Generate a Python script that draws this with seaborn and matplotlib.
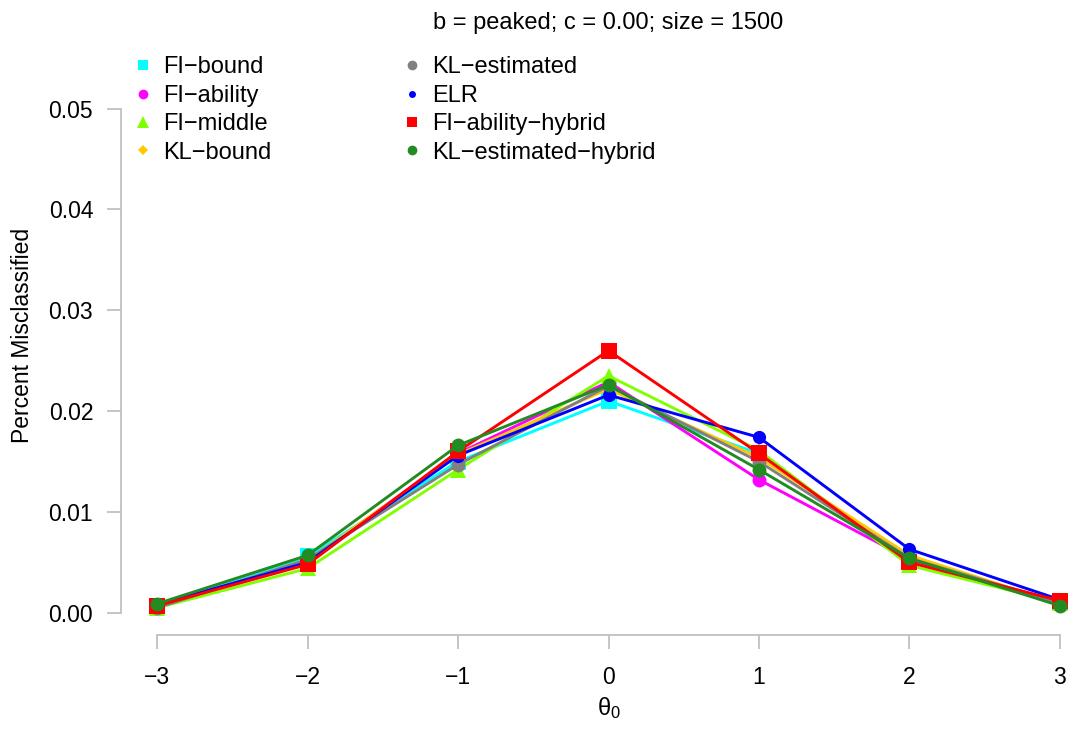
import matplotlib
matplotlib.use("Agg")
import matplotlib.pyplot as plt
import numpy as np
import pandas as pd
import seaborn as sns
from matplotlib.lines import Line2D

# values
theta = [-3, -2, -1, 0, 1, 2, 3]
fi_bound = [0.0007, 0.0056, 0.0150, 0.0210, 0.0158, 0.0052, 0.0011]
fi_ability = [0.0007, 0.0051, 0.0158, 0.0229, 0.0132, 0.0053, 0.0010]
fi_middle = [0.0005, 0.0044, 0.0142, 0.0235, 0.0161, 0.0047, 0.0010]
kl_bound = [0.0006, 0.0052, 0.0157, 0.0222, 0.0154, 0.0057, 0.0009]
kl_estimated = [0.0005, 0.0053, 0.0147, 0.0225, 0.0150, 0.0054, 0.0010]
elr = [0.0008, 0.0050, 0.0156, 0.0216, 0.0174, 0.0063, 0.0013]
fi_ability_hybrid = [0.0007, 0.0048, 0.0160, 0.0260, 0.0158, 0.0050, 0.0012]
kl_estimated_hybrid = [0.0009, 0.0057, 0.0166, 0.0226, 0.0142, 0.0054, 0.0007]

labels = ["FI\u2212bound", "FI\u2212ability", "FI\u2212middle", "KL\u2212bound",
          "KL\u2212estimated", "ELR", "FI\u2212ability\u2212hybrid", "KL\u2212estimated\u2212hybrid"]
series = [fi_bound, fi_ability, fi_middle, kl_bound,
          kl_estimated, elr, fi_ability_hybrid, kl_estimated_hybrid]
colors = ["#00FFFF", "#FF00FF", "#7FFF00", "#FFC800",
          "#808080", "#0000FF", "#FF0000", "#228B22"]
markers = ["s", "o", "^", "D", "o", "o", "s", "o"]
msizes = [11.5, 10, 11, 6, 10, 9.5, 11.5, 10]
leg_sizes = [7.5, 7, 8.5, 5, 7, 5, 7.5, 7]

sns.set_style("white")
plt.rcParams["font.family"] = ["Liberation Sans", "DejaVu Sans"]
plt.rcParams["text.color"] = "black"
plt.rcParams["axes.labelcolor"] = "black"
plt.rcParams["mathtext.fontset"] = "custom"
plt.rcParams["mathtext.rm"] = "Liberation Sans"
plt.rcParams["mathtext.it"] = "Liberation Sans"

fig = plt.figure(figsize=(10.7, 7.49), dpi=100)
ax = fig.add_axes([121 / 1070, 114 / 749, 975 / 1070, 599 / 749])

for lab, vals, col, mk, ms in zip(labels, series, colors, markers, msizes):
    df = pd.DataFrame({"theta": theta, "value": vals})
    sns.lineplot(data=df, x="theta", y="value", color=col, marker=mk,
                 markersize=ms, markeredgewidth=0, linewidth=2.1, ax=ax)

ax.set_xlim(-3.24, 3.24)
ax.set_ylim(-0.0022, 0.0572)
ax.set_xticks(theta)
ax.set_xticklabels(["\u22123", "\u22122", "\u22121", "0", "1", "2", "3"])
ax.set_yticks([0, 0.01, 0.02, 0.03, 0.04, 0.05])
ax.set_yticklabels(["0.00", "0.01", "0.02", "0.03", "0.04", "0.05"])
for s in ["top", "right"]:
    ax.spines[s].set_visible(False)
ax.spines["left"].set_bounds(0, 0.05)
ax.spines["bottom"].set_bounds(-3, 3)
for s in ["left", "bottom"]:
    ax.spines[s].set_color("#C0C0C0")
    ax.spines[s].set_linewidth(1.3)
ax.tick_params(axis="both", which="major", length=10, width=1.3, color="#C0C0C0",
               labelsize=16.5, labelcolor="black", direction="out", pad=10,
               bottom=True, left=True)
ax.tick_params(axis="x", pad=12.5)
ax.set_xlabel(r"$\theta_0$", fontsize=17, labelpad=4)
ax.set_ylabel("Percent Misclassified", fontsize=16.5, labelpad=10.5)
ax.set_title("b = peaked; c = 0.00; size = 1500", fontsize=17, pad=5)

handles = [Line2D([], [], color=c, marker=m, markersize=s, markeredgewidth=0, linestyle="none")
           for c, m, s in zip(colors, markers, leg_sizes)]
leg_kw = dict(loc="upper left", bbox_transform=fig.transFigure, frameon=False, fontsize=17,
              handlelength=1.0, handletextpad=0.35, labelspacing=0.27, borderaxespad=0)
leg1 = ax.legend(handles[:4], labels[:4], bbox_to_anchor=(122 / 1070, 1 - 47 / 749), **leg_kw)
ax.add_artist(leg1)
ax.legend(handles[4:], labels[4:], bbox_to_anchor=(391 / 1070, 1 - 47 / 749), **leg_kw)

fig.savefig("out.png", dpi=100)
